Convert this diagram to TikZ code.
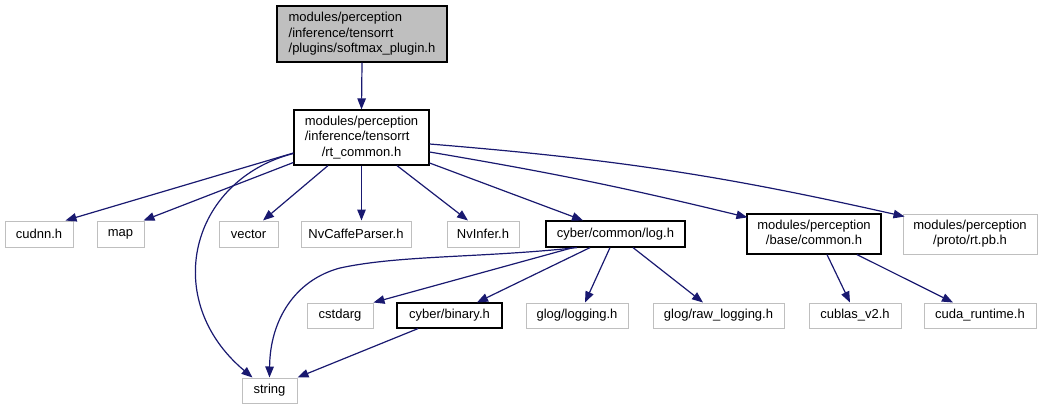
\documentclass[tikz,border=0pt]{standalone}
\usepackage{fontspec}
\setmainfont{Liberation Sans}
\usetikzlibrary{arrows.meta,calc}
\definecolor{edgeblue}{RGB}{25,25,112}
\definecolor{boxgray}{RGB}{191,191,191}
\begin{document}
\begin{tikzpicture}[x=1pt,y=-1pt,
  box/.style={draw=boxgray,line width=1pt,inner sep=0pt,font=\fontsize{13}{15.5}\selectfont},
  linkbox/.style={box,draw=black,line width=1.2pt},
  dep/.style={draw=edgeblue,line width=1.2pt,-{Triangle[length=11pt,width=8.5pt]}}]
\useasboundingbox (0,0) rectangle (1048,409);

% nodes
\node[linkbox,fill=boxgray,minimum width=170pt,minimum height=56pt] (top) at (362,34)
  {\begin{tabular}{@{}l@{}}modules/perception\\/inference/tensorrt\\/plugins/softmax\_plugin.h\end{tabular}};
\node[linkbox,minimum width=135pt,minimum height=55pt] (rt) at (361.5,137.5)
  {\begin{tabular}{@{}l@{}}modules/perception\\/inference/tensorrt\\\multicolumn{1}{@{}c@{}}{/rt\_common.h}\end{tabular}};

\node[box,minimum width=68pt,minimum height=26pt] (cudnn) at (39,234) {cudnn.h};
\node[box,minimum width=47pt,minimum height=26pt] (map) at (120.5,234) {map};
\node[box,minimum width=59pt,minimum height=26pt] (vector) at (248.5,234) {vector};
\node[box,minimum width=110pt,minimum height=26pt] (caffe) at (356,234) {NvCaffeParser.h};
\node[box,minimum width=72pt,minimum height=26pt] (nvinfer) at (483,234) {NvInfer.h};
\node[linkbox,minimum width=139pt,minimum height=26pt] (log) at (615.5,234) {cyber/common/log.h};
\node[linkbox,minimum width=134pt,minimum height=40pt] (basec) at (814,234)
  {\begin{tabular}{@{}l@{}}modules/perception\\\multicolumn{1}{@{}c@{}}{/base/common.h}\end{tabular}};
\node[box,minimum width=134pt,minimum height=40pt] (proto) at (970,234)
  {\begin{tabular}{@{}l@{}}modules/perception\\\multicolumn{1}{@{}c@{}}{/proto/rt.pb.h}\end{tabular}};

\node[box,minimum width=66pt,minimum height=25pt] (cstdarg) at (340,315.5) {cstdarg};
\node[linkbox,minimum width=105pt,minimum height=25pt] (binary) at (449.5,315.5) {cyber/binary.h};
\node[box,minimum width=102pt,minimum height=25pt] (glog) at (577,315.5) {glog/logging.h};
\node[box,minimum width=131pt,minimum height=25pt] (raw) at (718.5,315.5) {glog/raw\_logging.h};
\node[box,minimum width=92pt,minimum height=25pt] (cublas) at (855,315.5) {cublas\_v2.h};
\node[box,minimum width=112pt,minimum height=25pt] (cudart) at (980,315.5) {cuda\_runtime.h};

\node[box,minimum width=55pt,minimum height=25pt] (string) at (269.5,390.5) {string};

% edges
\draw[dep] (top.south) -- (rt.north);
\draw[dep] ($(rt.west)+(0,15.5)$) -- ($(cudnn.north east)+(-8,0)$);
\draw[dep] ($(rt.west)+(0,25)$) -- ($(map.north east)+(-1,0)$);
\draw[dep] ($(rt.west)+(0,16)$) .. controls (190,180) and (160,300) .. ($(string.north)+(-17,0)$);
\draw[dep] ($(rt.south)+(-33.5,0)$) -- ($(vector.north)+(14.5,0)$);
\draw[dep] (rt.south) -- (rt.south |- caffe.north);
\draw[dep] ($(rt.south)+(35.5,0)$) -- ($(nvinfer.north)+(-15,0)$);
\draw[dep] ($(rt.east)+(0,25.5)$) -- ($(log.north)+(-32.5,0)$);
\draw[dep] ($(rt.east)+(0,14.5)$) to[bend left=2] ($(basec.north west)+(1,4)$);
\draw[dep] ($(rt.east)+(0,6.5)$) to[bend left=4] ($(proto.north west)+(2,3)$);

\draw[dep] ($(log.south)+(-38.5,0)$) .. controls (480,258) and (400,255) .. (340,268)
  .. controls (295,280) and (270,320) .. (string.north);
\draw[dep] ($(log.south)+(-42.5,0)$) -- (cstdarg.north east);
\draw[dep] ($(log.south)+(-25.5,0)$) -- ($(binary.north)+(27.5,0)$);
\draw[dep] ($(log.south)+(-5.5,0)$) -- ($(glog.north)+(8,0)$);
\draw[dep] ($(log.south)+(17.5,0)$) -- ($(raw.north)+(-15.5,0)$);

\draw[dep] ($(basec.south)+(13,0)$) -- ($(cublas.north)+(-5,0)$);
\draw[dep] ($(basec.south)+(43,0)$) -- ($(cudart.north)+(-27,0)$);

\draw[dep] ($(binary.south)+(-31.5,0)$) -- (string.north east);
\end{tikzpicture}
\end{document}
